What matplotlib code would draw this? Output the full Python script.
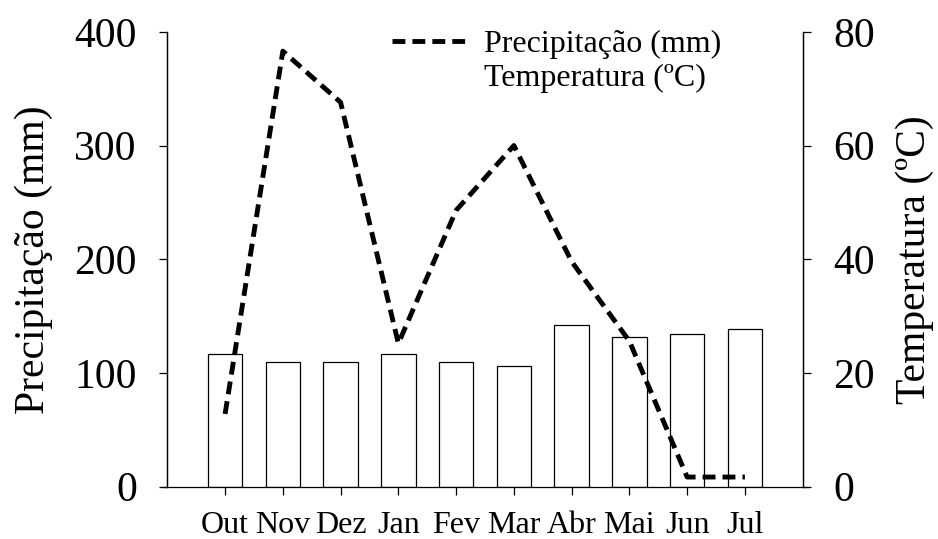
import matplotlib.pyplot as plt
from matplotlib.patches import Patch
import numpy as np

plt.rcParams['font.family'] = 'Liberation Serif'

# dados mensais
meses = ['Out', 'Nov', 'Dez', 'Jan', 'Fev', 'Mar', 'Abr', 'Mai', 'Jun', 'Jul']
precipitacao = [64, 383, 338, 126, 243, 300, 198, 128, 8.5, 8.5]          # mm
temperatura = [23.4, 22.0, 21.9, 23.3, 22.0, 21.3, 28.4, 26.3, 26.8, 27.8]  # ºC

x = np.arange(len(meses))

fig = plt.figure(figsize=(9.38, 5.39), dpi=100)
ax = fig.add_axes([0.1784, 0.097, 0.6773, 0.844])
ax2 = ax.twinx()

# barras (temperatura) no eixo da direita, atrás da linha
ax2.bar(x, temperatura, width=0.6, color='white', edgecolor='black', linewidth=0.9)
ax2.set_ylim(0, 80)
ax2.set_yticks([0, 20, 40, 60, 80])
ax2.set_ylabel('Temperatura (ºC)', fontsize=30, labelpad=15)

# linha (precipitação) no eixo da esquerda
ax.set_zorder(ax2.get_zorder() + 1)
ax.patch.set_visible(False)
linha, = ax.plot(x, precipitacao, color='black', linewidth=3.5, linestyle=(0, (2.65, 1.45)))
ax.set_ylim(0, 400)
ax.set_yticks([0, 100, 200, 300, 400])
ax.set_ylabel('Precipitação (mm)', fontsize=30, labelpad=15)
ax.set_xlim(-1, 10)
ax.set_xticks(x)
ax.set_xticklabels(meses)

for a in (ax, ax2):
    a.spines['top'].set_visible(False)
    a.spines['bottom'].set_visible(False)
    for s in a.spines.values():
        s.set_linewidth(0.9)
ax.spines['bottom'].set_visible(True)
ax.spines['bottom'].set_bounds(-1.097, 10.093)
ax.tick_params(axis='y', labelsize=30, direction='out', length=6, width=0.9, pad=16)
ax2.tick_params(axis='y', labelsize=30, direction='out', length=6, width=0.9, pad=16)
ax.tick_params(axis='x', labelsize=23, direction='out', length=6, width=0.9, pad=11.5)

ax.legend([linha, Patch(facecolor='white', edgecolor='none')],
          ['Precipitação (mm)', 'Temperatura (ºC)'],
          loc='upper left', bbox_to_anchor=(392 / 938, 1 - 30 / 539),
          bbox_transform=fig.transFigure, frameon=False, borderpad=0, borderaxespad=0,
          fontsize=23, handlelength=2.28, handletextpad=0.6, labelspacing=0.14)

fig.savefig('out.png', dpi=100)
